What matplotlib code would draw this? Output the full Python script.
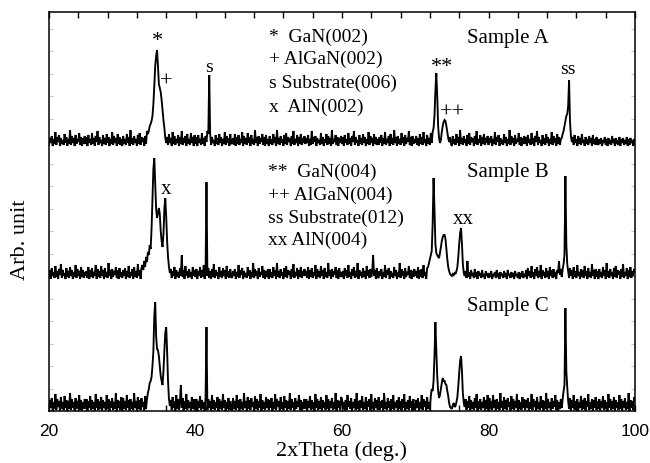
import numpy as np
import matplotlib
matplotlib.use("Agg")
import matplotlib.pyplot as plt
from matplotlib.ticker import MultipleLocator, NullFormatter

plt.rcParams["path.simplify"] = False

# ---------------- data ----------------
# scan grid: 2-theta from 20 to 100 deg, step 0.125 deg (641 points)
scan_start = 20.0
scan_step = 0.125

# intensities (arb. units), one row per 5 deg (40 values), last single value = 100 deg
sample_a = [
    1, 8, 3, 10, 0, 7, 2, 14, 1, 9, 4, 11, 0, 8, 2, 6, 1, 12, 3, 9, 0, 7, 2, 16, 1, 10, 3, 8, 0, 11, 2, 7, 4, 13, 1, 9, 0, 8, 2, 10,
    2, 9, 0, 11, 3, 7, 1, 13, 2, 8, 0, 10, 4, 15, 1, 9, 3, 6, 0, 11, 2, 8, 1, 12, 3, 9, 0, 7, 2, 14, 1, 10, 3, 8, 0, 12, 2, 9, 1, 7,
    0, 10, 2, 7, 1, 12, 3, 9, 0, 16, 2, 8, 1, 10, 3, 7, 0, 11, 2, 13, 1, 9, 4, 8, 0, 10, 2, 15, 12, 15, 20, 22, 25, 30, 42, 60, 80, 90, 96, 80,
    62, 58, 54, 46, 36, 26, 18, 8, 3, 9, 1, 12, 3, 8, 0, 14, 2, 10, 1, 7, 3, 11, 0, 9, 2, 15, 1, 8, 3, 10, 0, 12, 2, 7, 1, 13, 3, 9, 0, 11,
    2, 9, 0, 11, 3, 7, 1, 13, 2, 8, 0, 10, 4, 15, 12, 71, 12, 1, 9, 3, 6, 0, 11, 2, 8, 1, 12, 3, 9, 0, 7, 2, 14, 1, 10, 3, 8, 0, 12, 2,
    3, 8, 1, 12, 0, 9, 2, 11, 1, 7, 3, 14, 0, 10, 2, 8, 1, 13, 3, 9, 0, 11, 2, 7, 1, 16, 3, 9, 0, 10, 2, 8, 4, 12, 1, 9, 0, 11, 2, 7,
    0, 10, 2, 7, 1, 12, 3, 9, 0, 16, 2, 8, 1, 10, 3, 7, 0, 11, 2, 13, 1, 9, 4, 8, 0, 10, 2, 15, 1, 7, 3, 11, 0, 9, 2, 12, 1, 8, 3, 10,
    2, 8, 3, 11, 0, 7, 1, 15, 2, 9, 4, 10, 0, 8, 3, 6, 1, 13, 2, 9, 0, 7, 3, 12, 1, 10, 2, 8, 0, 16, 2, 7, 4, 11, 1, 9, 0, 8, 3, 10,
    2, 9, 0, 11, 3, 7, 1, 13, 2, 8, 0, 10, 4, 15, 1, 9, 3, 6, 0, 11, 2, 8, 1, 12, 3, 9, 0, 7, 2, 14, 1, 10, 3, 8, 0, 12, 2, 9, 1, 7,
    1, 9, 3, 11, 0, 8, 2, 14, 1, 7, 3, 10, 0, 12, 2, 8, 1, 16, 3, 9, 0, 10, 2, 7, 1, 13, 3, 9, 0, 11, 2, 8, 4, 15, 1, 9, 0, 10, 2, 7,
    3, 10, 1, 8, 0, 12, 2, 9, 1, 14, 3, 7, 0, 11, 2, 8, 1, 13, 3, 14, 18, 30, 55, 73, 50, 20, 8, 3, 6, 14, 20, 24, 26, 25, 20, 14, 8, 4, 9, 2,
    0, 10, 2, 7, 1, 12, 3, 9, 0, 16, 2, 8, 1, 10, 3, 7, 0, 11, 2, 13, 1, 9, 4, 8, 0, 10, 2, 15, 1, 7, 3, 11, 0, 9, 2, 12, 1, 8, 3, 10,
    1, 8, 3, 10, 0, 7, 2, 14, 1, 9, 4, 11, 0, 8, 2, 6, 1, 12, 3, 9, 0, 7, 2, 16, 1, 10, 3, 8, 0, 11, 2, 7, 4, 13, 1, 9, 0, 8, 2, 10,
    2, 9, 0, 11, 3, 7, 1, 13, 2, 8, 0, 10, 4, 15, 1, 9, 3, 6, 0, 11, 2, 8, 1, 12, 3, 9, 0, 7, 2, 14, 1, 10, 3, 8, 0, 12, 2, 9, 1, 7,
    8, 12, 15, 20, 25, 30, 32, 40, 66, 25, 10, 4, 9, 1, 11, 3, 7, 0, 10, 2, 8, 1, 12, 3, 6, 0, 9, 2, 7, 1, 10, 3, 8, 0, 11, 2, 7, 1, 9, 3,
    1, 7, 2, 8, 0, 6, 3, 9, 1, 7, 0, 8, 2, 6, 1, 10, 3, 7, 0, 8, 2, 6, 1, 9, 0, 7, 3, 8, 1, 6, 2, 9, 0, 7, 1, 8, 3, 6, 0, 7,
    2,
]

sample_b = [
    2, 9, 0, 11, 3, 7, 1, 13, 2, 8, 0, 10, 4, 15, 1, 9, 3, 6, 0, 11, 2, 8, 1, 12, 3, 9, 0, 7, 2, 14, 1, 10, 3, 8, 0, 12, 2, 9, 1, 7,
    3, 8, 1, 12, 0, 9, 2, 11, 1, 7, 3, 14, 0, 10, 2, 8, 1, 13, 3, 9, 0, 11, 2, 7, 1, 16, 3, 9, 0, 10, 2, 8, 4, 12, 1, 9, 0, 11, 2, 7,
    1, 9, 3, 11, 0, 8, 2, 13, 1, 7, 3, 10, 0, 12, 2, 8, 1, 15, 3, 9, 0, 11, 14, 9, 18, 12, 22, 17, 27, 24, 34, 30, 50, 80, 110, 121, 95, 70, 61, 66,
    71, 65, 48, 38, 32, 45, 70, 81, 62, 38, 22, 12, 6, 10, 1, 8, 3, 12, 0, 9, 2, 7, 1, 11, 3, 24, 2, 9, 0, 13, 3, 8, 1, 10, 2, 7, 0, 12, 3, 9,
    2, 10, 0, 8, 3, 12, 1, 9, 2, 14, 0, 7, 97, 3, 11, 1, 8, 0, 10, 2, 15, 1, 9, 3, 7, 0, 12, 2, 8, 1, 11, 3, 9, 0, 13, 2, 8, 1, 10, 3,
    1, 8, 3, 10, 0, 7, 2, 14, 1, 9, 4, 11, 0, 8, 2, 6, 1, 12, 3, 9, 0, 7, 2, 16, 1, 10, 3, 8, 0, 11, 2, 7, 4, 13, 1, 9, 0, 8, 2, 10,
    0, 10, 2, 7, 1, 12, 3, 9, 0, 16, 2, 8, 1, 10, 3, 7, 0, 11, 2, 13, 1, 9, 4, 8, 0, 10, 2, 15, 1, 7, 3, 11, 0, 9, 2, 12, 1, 8, 3, 10,
    3, 8, 1, 12, 0, 9, 2, 11, 1, 7, 3, 14, 0, 10, 2, 8, 1, 13, 3, 9, 0, 11, 2, 7, 1, 16, 3, 9, 0, 10, 2, 8, 4, 12, 1, 9, 0, 11, 2, 7,
    2, 8, 0, 11, 3, 9, 1, 14, 2, 7, 0, 10, 3, 12, 1, 8, 2, 16, 0, 9, 3, 7, 1, 11, 2, 8, 0, 13, 3, 9, 1, 10, 2, 7, 24, 3, 9, 0, 11, 2,
    1, 8, 3, 10, 0, 7, 2, 14, 1, 9, 4, 11, 0, 8, 2, 6, 1, 12, 3, 9, 0, 7, 2, 16, 1, 10, 3, 8, 0, 11, 2, 7, 4, 13, 1, 9, 0, 8, 2, 10,
    3, 8, 1, 12, 0, 9, 2, 10, 1, 14, 3, 7, 0, 11, 12, 16, 20, 24, 28, 55, 101, 70, 35, 26, 24, 22, 21, 26, 32, 38, 42, 44, 44, 40, 30, 20, 12, 8, 5, 4,
    3, 5, 4, 6, 5, 8, 12, 22, 35, 46, 51, 35, 15, 6, 3, 8, 1, 18, 2, 7, 0, 9, 3, 6, 1, 10, 2, 7, 0, 8, 3, 6, 1, 9, 2, 5, 0, 8, 3, 6,
    1, 6, 2, 8, 0, 5, 3, 7, 1, 9, 2, 6, 0, 7, 3, 5, 1, 8, 2, 6, 0, 9, 3, 5, 1, 7, 2, 6, 0, 8, 3, 5, 1, 7, 0, 6, 2, 8, 1, 5,
    2, 9, 0, 11, 3, 8, 1, 13, 2, 7, 0, 10, 3, 12, 1, 8, 2, 14, 0, 9, 3, 7, 1, 11, 2, 8, 0, 12, 3, 9, 1, 10, 2, 7, 0, 9, 6, 18, 4, 10,
    2, 10, 15, 25, 103, 35, 15, 8, 1, 11, 3, 9, 0, 12, 2, 8, 1, 14, 3, 7, 0, 10, 2, 9, 1, 13, 3, 8, 0, 11, 2, 7, 1, 15, 3, 9, 0, 10, 2, 8,
    0, 10, 2, 7, 1, 12, 3, 9, 0, 16, 2, 8, 1, 10, 3, 7, 0, 11, 2, 13, 1, 9, 4, 8, 0, 10, 2, 15, 1, 7, 3, 11, 0, 9, 2, 12, 1, 8, 3, 10,
    8,
]

sample_c = [
    1, 11, 3, 13, 0, 9, 2, 17, 1, 12, 4, 10, 0, 14, 2, 9, 1, 15, 3, 11, 0, 10, 2, 18, 1, 12, 3, 9, 0, 13, 2, 10, 4, 16, 1, 11, 0, 9, 2, 12,
    2, 12, 0, 10, 3, 15, 1, 11, 2, 9, 0, 17, 3, 12, 1, 10, 2, 14, 0, 11, 3, 9, 1, 16, 2, 12, 0, 10, 3, 13, 1, 9, 2, 18, 0, 11, 3, 10, 1, 14,
    0, 13, 2, 10, 1, 16, 3, 11, 0, 12, 2, 9, 1, 18, 3, 10, 0, 14, 2, 11, 1, 13, 4, 9, 0, 15, 2, 12, 18, 22, 28, 30, 34, 45, 60, 95, 109, 75, 62, 61,
    55, 45, 35, 30, 26, 40, 60, 78, 84, 60, 30, 12, 5, 11, 1, 14, 3, 10, 0, 16, 2, 12, 1, 9, 26, 3, 13, 0, 10, 2, 17, 1, 11, 3, 9, 0, 14, 2, 12, 1,
    2, 12, 0, 10, 3, 15, 1, 11, 2, 9, 0, 13, 84, 1, 12, 3, 10, 0, 16, 2, 11, 1, 9, 3, 14, 0, 12, 2, 10, 1, 17, 3, 11, 0, 9, 2, 13, 1, 10, 3,
    0, 13, 2, 10, 1, 16, 3, 11, 0, 12, 2, 9, 1, 18, 3, 10, 0, 14, 2, 11, 1, 13, 4, 9, 0, 15, 2, 12, 1, 10, 3, 17, 0, 11, 2, 9, 1, 14, 3, 12,
    1, 11, 3, 13, 0, 9, 2, 17, 1, 12, 4, 10, 0, 14, 2, 9, 1, 15, 3, 11, 0, 10, 2, 18, 1, 12, 3, 9, 0, 13, 2, 10, 4, 16, 1, 11, 0, 9, 2, 12,
    2, 12, 0, 10, 3, 15, 1, 11, 2, 9, 0, 17, 3, 12, 1, 10, 2, 14, 0, 11, 3, 9, 1, 16, 2, 12, 0, 10, 3, 13, 1, 9, 2, 18, 0, 11, 3, 10, 1, 14,
    12, 2, 9, 0, 11, 1, 16, 4, 10, 2, 13, 0, 9, 3, 12, 1, 18, 2, 10, 0, 11, 3, 15, 1, 9, 2, 14, 0, 10, 4, 12, 1, 17, 2, 9, 0, 13, 3, 11, 1,
    14, 1, 10, 3, 11, 0, 18, 2, 9, 1, 13, 3, 10, 0, 12, 2, 16, 1, 9, 3, 11, 0, 14, 2, 10, 1, 12, 3, 17, 0, 9, 2, 11, 1, 15, 3, 10, 0, 12, 2,
    1, 11, 3, 13, 0, 9, 2, 16, 1, 12, 4, 10, 0, 14, 2, 9, 1, 15, 22, 20, 30, 55, 89, 60, 35, 20, 13, 16, 22, 28, 33, 30, 30, 27, 26, 20, 15, 8, 4, 3,
    2, 6, 8, 4, 5, 9, 14, 25, 38, 50, 55, 40, 18, 8, 4, 12, 1, 10, 3, 15, 0, 11, 2, 9, 1, 13, 3, 17, 0, 10, 2, 12, 1, 9, 3, 14, 0, 11, 2, 16,
    0, 13, 2, 10, 1, 16, 3, 11, 0, 12, 2, 9, 1, 18, 3, 10, 0, 14, 2, 11, 1, 13, 4, 9, 0, 15, 2, 12, 1, 10, 3, 17, 0, 11, 2, 9, 1, 14, 3, 12,
    1, 11, 3, 13, 0, 9, 2, 17, 1, 12, 4, 10, 0, 14, 2, 9, 1, 15, 3, 11, 0, 10, 2, 18, 1, 12, 3, 9, 0, 13, 2, 10, 4, 16, 1, 11, 0, 9, 2, 12,
    3, 12, 20, 26, 103, 40, 24, 10, 2, 13, 0, 11, 3, 16, 1, 10, 2, 12, 0, 9, 3, 15, 1, 11, 2, 13, 0, 10, 4, 17, 1, 9, 2, 12, 0, 11, 3, 14, 1, 10,
    2, 12, 0, 10, 3, 15, 1, 11, 2, 9, 0, 17, 3, 12, 1, 10, 2, 14, 0, 11, 3, 9, 1, 16, 2, 12, 0, 10, 3, 13, 1, 9, 2, 18, 0, 11, 3, 10, 1, 14,
    9,
]

sample_names = ["Sample A", "Sample B", "Sample C"]
stack_offsets = [265, 132, 0]

legend_a = ["*  GaN(002)", "+ AlGaN(002)", "s Substrate(006)", "x  AlN(002)"]
legend_b = ["**  GaN(004)", "++ AlGaN(004)", "ss Substrate(012)", "xx AlN(004)"]

x_ticks = [20, 40, 60, 80, 100]
x_tick_labels = ["20", "40", "60", "80", "100"]

# ---------------- figure ----------------
serif = ["Liberation Serif", "DejaVu Serif"]
sans = ["Liberation Sans", "DejaVu Sans"]

fig = plt.figure(figsize=(6.5, 4.63), dpi=100)
ax = fig.add_axes([49 / 650, 52 / 463, 586 / 650, 399 / 463])

for vals, off in zip([sample_a, sample_b, sample_c], stack_offsets):
    assert len(vals) == 641, len(vals)
    two_theta = scan_start + scan_step * np.arange(len(vals))
    ax.plot(two_theta, np.asarray(vals, dtype=float) + off, color="black",
            lw=1.35, solid_joinstyle="miter")

ax.set_xlim(20, 100)
ax.set_ylim(0, 399)

ax.set_xticks(x_ticks)
ax.set_xticklabels(x_tick_labels, fontfamily=sans, fontsize=12.5)
ax.xaxis.set_minor_locator(MultipleLocator(4))
ax.tick_params(axis="x", which="both", direction="in", top=True, bottom=True,
               length=4, width=1.0, pad=9)
ax.set_yticks([])
ax.yaxis.set_minor_locator(MultipleLocator(22.5))
ax.yaxis.set_minor_formatter(NullFormatter())
ax.tick_params(axis="y", which="minor", direction="in", left=True, right=True,
               length=3, width=0.8, color="#c8c8c8")
for sp in ax.spines.values():
    sp.set_linewidth(1.1)

ax.set_xlabel("2xTheta (deg.)", fontfamily=serif, fontsize=16)
ax.xaxis.set_label_coords(0.5, -0.075)
ax.set_ylabel("Arb. unit", fontfamily=serif, fontsize=16)
ax.yaxis.set_label_coords(-0.032, 0.43)

fs = 14
def t(x, y, s, ha="center", size=fs):
    ax.text(x, y, s, ha=ha, va="center", fontfamily=serif, fontsize=size)

# peak markers
t(34.77, 369, "*", size=16)
t(36.0, 329, "+", size=16)
t(41.88, 344, "s")
t(73.6, 343, "**", size=16)
t(75.1, 298, "++", size=16)
t(90.8, 341, "ss")
t(36.0, 221, "x", size=15)
t(76.5, 191, "xx", size=15)

# sample names
for name, y in zip(sample_names, [373, 238, 104]):
    t(77.0, y, name, ha="left", size=15)

# legends
for s, y in zip(legend_a, [374, 352, 328, 304]):
    t(50.1, y, s, ha="left")
for s, y in zip(legend_b, [239, 216, 193, 171]):
    t(49.95, y, s, ha="left")

fig.savefig("out.png", dpi=100)
